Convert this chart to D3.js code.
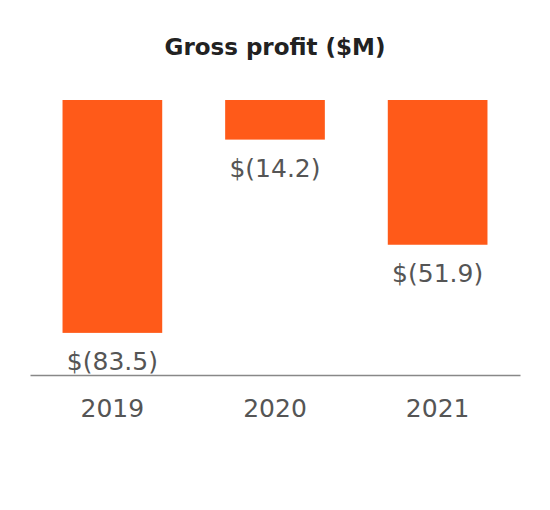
<!DOCTYPE html>
<html><head><meta charset="utf-8">
<script src="https://cdn.jsdelivr.net/npm/d3@7"></script>
<style>body{margin:0;background:#fff}text{font-family:"DejaVu Sans",sans-serif}</style>
</head><body>
<svg id="chart" width="550" height="510"></svg>
<script>
const years = ['2019', '2020', '2021'];
const values = [-83.5, -14.2, -51.9];
const labels = ['$(83.5)', '$(14.2)', '$(51.9)'];

const svg = d3.select('#chart');

const x = d3.scaleBand().domain(years).range([30, 520]).paddingInner(0.387).paddingOuter(0.2);
const y = d3.scaleLinear().domain([0, -98.6]).range([100, 375]);

svg.append('text')
  .attr('x', 275).attr('y', 55)
  .attr('text-anchor', 'middle')
  .attr('font-size', 23).attr('font-weight', 'bold').attr('fill', '#222')
  .text('Gross profit ($M)');

svg.selectAll('rect.bar')
  .data(values)
  .enter()
  .append('rect')
  .attr('class', 'bar')
  .attr('x', (d, i) => x(years[i]))
  .attr('width', x.bandwidth())
  .attr('y', y(0))
  .attr('height', (d) => y(d) - y(0))
  .attr('fill', '#FF5A19');

svg.selectAll('text.val')
  .data(values)
  .enter()
  .append('text')
  .attr('class', 'val')
  .attr('x', (d, i) => x(years[i]) + x.bandwidth() / 2)
  .attr('y', (d) => y(d) + 37)
  .attr('text-anchor', 'middle')
  .attr('font-size', 25).attr('fill', '#555')
  .text((d, i) => labels[i]);

// baseline axis with year labels
const axis = svg.append('g')
  .attr('transform', `translate(0,${y.range()[1]})`)
  .call(d3.axisBottom(x).tickSize(0).tickPadding(24));
axis.attr('font-size', 25);
axis.select('.domain').attr('stroke', '#888').attr('stroke-width', 1.5);
axis.selectAll('text')
  .attr('font-size', 25).attr('fill', '#555')
  .attr('font-family', '"DejaVu Sans",sans-serif');
</script>
</body></html>
